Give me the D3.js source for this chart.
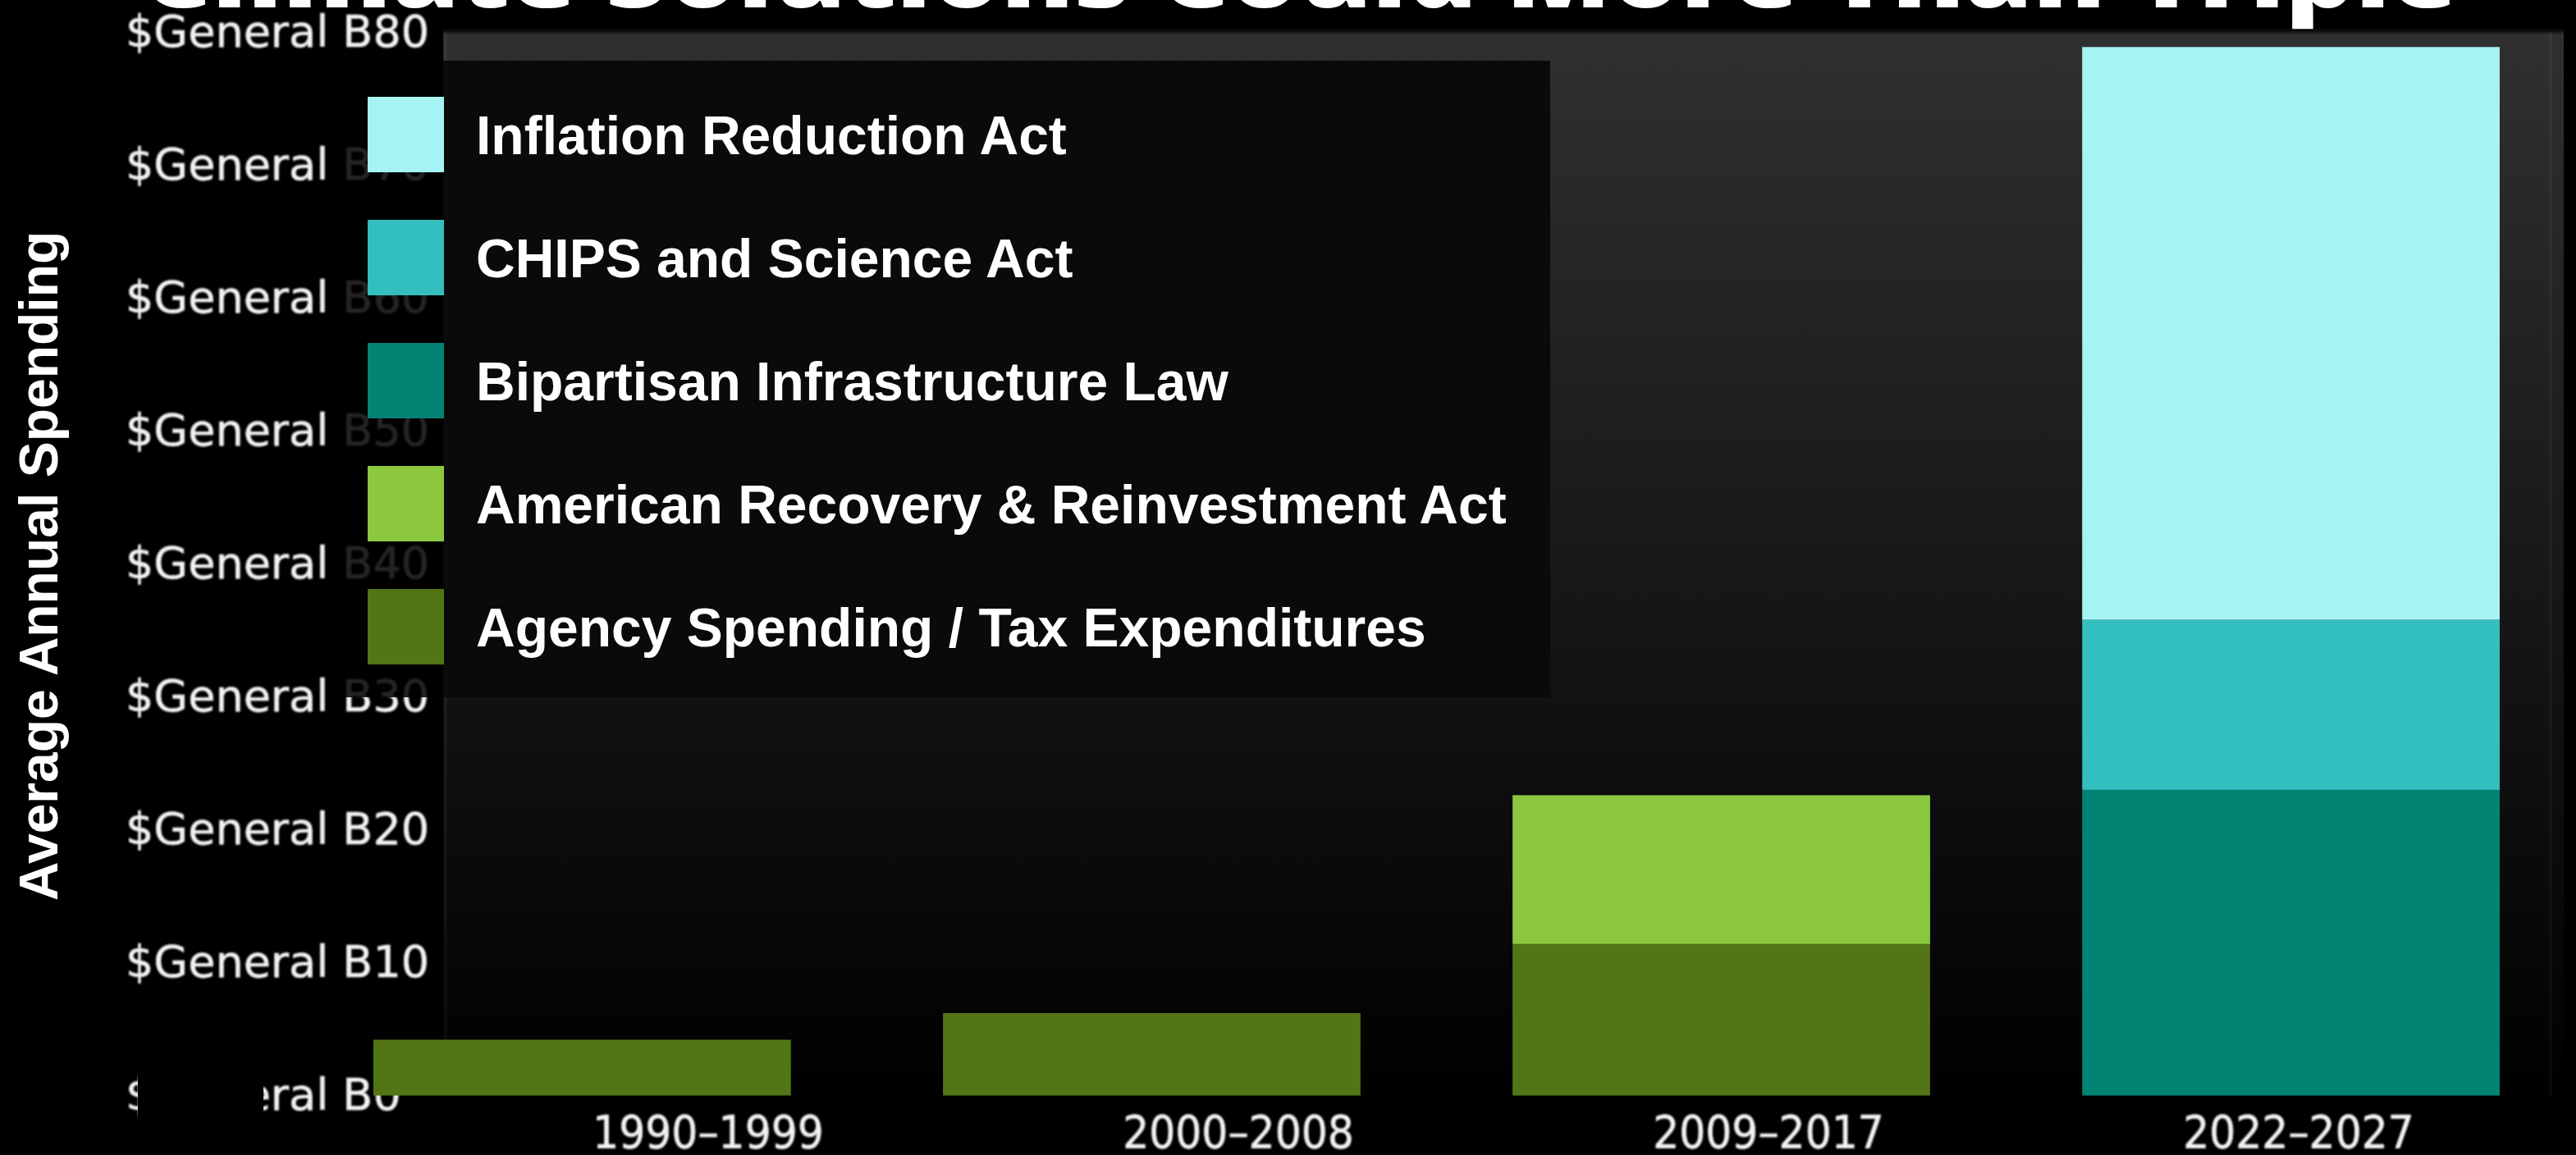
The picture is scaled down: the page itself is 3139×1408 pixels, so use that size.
<!DOCTYPE html>
<html>
<head>
<meta charset="utf-8">
<script src="https://cdn.jsdelivr.net/npm/d3@7"></script>
<style>
  html, body { margin: 0; padding: 0; background: #000; overflow: hidden; }
  svg { display: block; }
</style>
</head>
<body>
<svg id="chart" width="3139" height="1408"></svg>
<script>
// ---- data (billions of dollars, average annual spending) ----
const periods = ["1990–1999", "2000–2008", "2009–2017", "2022–2027"];
const agencySpending        = [4.2, 6.2, 11.4, 0];
const recoveryAct           = [0, 0, 11.2, 0];
const infrastructureLaw     = [0, 0, 0, 23.0];
const chipsAct              = [0, 0, 0, 12.8];
const inflationReductionAct = [0, 0, 0, 43.1];

const seriesKeys  = ["agency", "arra", "bil", "chips", "ira"];
const seriesNames = [
  "Agency Spending / Tax Expenditures",
  "American Recovery & Reinvestment Act",
  "Bipartisan Infrastructure Law",
  "CHIPS and Science Act",
  "Inflation Reduction Act"
];
const seriesColors = ["#527516", "#8bc83f", "#018474", "#33bfbd", "#a6f3f3"];
const yTicks = [0, 10, 20, 30, 40, 50, 60, 70, 80];
const titleText = "Climate Solutions Could More Than Triple";
const yTitle = "Average Annual Spending";

// ---- layout ----
const W = 3139, H = 1408;
const plotLeft = 540, plotRight = 3124;
const labelLeft = 153;

const svg = d3.select("#chart");
const defs = svg.append("defs");

const grad = defs.append("linearGradient")
  .attr("id", "plotBg").attr("x1", 0).attr("y1", 0).attr("x2", 0).attr("y2", 1);
grad.append("stop").attr("offset", "0%").attr("stop-color", "#303030");
grad.append("stop").attr("offset", "100%").attr("stop-color", "#000000");

// soft fade along the top edge of the panel
const topFade = defs.append("linearGradient")
  .attr("id", "topFade").attr("x1", 0).attr("y1", 0).attr("x2", 0).attr("y2", 1);
topFade.append("stop").attr("offset", "0%").attr("stop-color", "#000").attr("stop-opacity", 1);
topFade.append("stop").attr("offset", "100%").attr("stop-color", "#000").attr("stop-opacity", 0);

defs.append("filter").attr("id", "softLine").attr("x", "-1%").attr("y", "-300%").attr("width", "102%").attr("height", "700%")
  .append("feGaussianBlur").attr("stdDeviation", 1.6);
defs.append("filter").attr("id", "softText").attr("x", "-5%").attr("y", "-20%").attr("width", "110%").attr("height", "140%")
  .append("feGaussianBlur").attr("stdDeviation", 0.8);

// scales
const y = d3.scaleLinear().domain([0, 80]).range([1335.5, 39.5]);
const xLabels = d3.scaleBand().domain(periods).range([plotLeft, plotRight]);
const xBars = d3.scaleBand().domain(periods).range([455, 3046]).paddingInner(0.267).paddingOuter(0);

// stacked rows
const rows = periods.map((p, i) => ({
  period: p,
  agency: agencySpending[i],
  arra: recoveryAct[i],
  bil: infrastructureLaw[i],
  chips: chipsAct[i],
  ira: inflationReductionAct[i]
}));
const stacked = d3.stack().keys(seriesKeys)(rows);
const color = d3.scaleOrdinal().domain(seriesKeys).range(seriesColors);

// background
svg.append("rect").attr("width", W).attr("height", H).attr("fill", "#000");

// title (runs off the top edge)
svg.append("text")
  .attr("x", 172).attr("y", 9)
  .attr("textLength", 2823).attr("lengthAdjust", "spacingAndGlyphs")
  .attr("fill", "#fff")
  .style("font-family", "'Open Sans', 'DejaVu Sans', sans-serif")
  .style("font-weight", 800)
  .style("font-size", "114px")
  .text(titleText);

// plot panel
const panelTop = y(80) - 4, panelBottom = y(0) + 1.5;
svg.append("rect")
  .attr("x", plotLeft).attr("y", panelTop)
  .attr("width", plotRight - plotLeft).attr("height", panelBottom - panelTop)
  .attr("fill", "url(#plotBg)");
svg.append("rect")
  .attr("x", plotLeft).attr("y", panelTop)
  .attr("width", plotRight - plotLeft).attr("height", 7)
  .attr("fill", "url(#topFade)");

// gridlines
svg.append("g").selectAll("line")
  .data(yTicks.filter(d => d > 0))
  .join("line")
  .attr("x1", plotLeft).attr("x2", plotRight)
  .attr("y1", d => y(d)).attr("y2", d => y(d))
  .attr("stroke", "#ffffff").attr("stroke-opacity", 0.06).attr("stroke-width", 4)
  .attr("filter", "url(#softLine)");

// panel borders and baseline
svg.append("line")
  .attr("x1", plotLeft + 3).attr("x2", plotLeft + 3).attr("y1", y(80)).attr("y2", y(0))
  .attr("stroke", "#ffffff").attr("stroke-opacity", 0.05).attr("stroke-width", 3);
svg.append("line")
  .attr("x1", plotRight - 16).attr("x2", plotRight - 16).attr("y1", y(80)).attr("y2", y(0))
  .attr("stroke", "#ffffff").attr("stroke-opacity", 0.04).attr("stroke-width", 4);
svg.append("line")
  .attr("x1", plotLeft).attr("x2", plotRight).attr("y1", y(0)).attr("y2", y(0))
  .attr("stroke", "#2c2c2c").attr("stroke-width", 4)
  .attr("filter", "url(#softLine)");

// y axis labels (left-aligned column)
const yAxis = svg.append("g")
  .attr("transform", `translate(${labelLeft},0)`)
  .call(d3.axisLeft(y).tickValues(yTicks).tickSize(0).tickPadding(0)
    .tickFormat(d => `$General B${d}`));
yAxis.select(".domain").remove();
yAxis.selectAll("text")
  .attr("x", 0)
  .attr("text-anchor", "start")
  .attr("fill", "#f2f2f2")
  .attr("stroke", "#f2f2f2").attr("stroke-width", 0.6)
  .attr("filter", "url(#softText)")
  .style("font-family", "'DejaVu Sans', Verdana, sans-serif")
  .style("font-size", "54px");

// dark patch over the bottom label
svg.append("rect")
  .attr("x", 168).attr("y", y(0) - 40).attr("width", 153).attr("height", 80)
  .attr("fill", "#000");

// bars
svg.append("g").selectAll("g")
  .data(stacked)
  .join("g")
  .attr("fill", d => color(d.key))
  .selectAll("rect")
  .data(d => d.filter(s => s[1] - s[0] > 0))
  .join("rect")
  .attr("x", d => xBars(d.data.period))
  .attr("width", xBars.bandwidth())
  .attr("y", d => y(d[1]))
  .attr("height", d => y(d[0]) - y(d[1]));

// x axis labels
const xAxis = svg.append("g")
  .attr("transform", `translate(0,${y(0) + 1.5})`)
  .call(d3.axisBottom(xLabels).tickSize(0).tickPadding(22));
xAxis.select(".domain").remove();
xAxis.selectAll("text")
  .attr("fill", "#f2f2f2")
  .attr("stroke", "#f2f2f2").attr("stroke-width", 0.6)
  .attr("filter", "url(#softText)")
  .style("font-family", "'DejaVu Sans Condensed', 'DejaVu Sans', sans-serif")
  .style("font-stretch", "condensed")
  .style("font-size", "56px");

// legend
const legendOrder = [4, 3, 2, 1, 0];
const legend = svg.append("g");
legend.append("rect")
  .attr("x", 410).attr("y", 74).attr("width", plotLeft - 410).attr("height", 776)
  .attr("fill", "#000").attr("fill-opacity", 0.85);
legend.append("rect")
  .attr("x", plotLeft).attr("y", 74).attr("width", 1889 - plotLeft).attr("height", 776)
  .attr("fill", "#0a0a0a");
const items = legend.selectAll("g.item")
  .data(legendOrder)
  .join("g").attr("class", "item")
  .attr("transform", (d, i) => `translate(448,${118 + i * 150})`);
items.append("rect")
  .attr("width", 93).attr("height", 92)
  .attr("fill", d => seriesColors[d]);
items.append("text")
  .attr("x", 132).attr("y", 46 + 24)
  .attr("fill", "#fff")
  .style("font-family", "'Liberation Sans', Arial, sans-serif")
  .style("font-weight", 700)
  .style("font-size", "66px")
  .text(d => seriesNames[d]);

// y axis title
svg.append("text")
  .attr("transform", "translate(70,690) rotate(-90)")
  .attr("text-anchor", "middle")
  .attr("fill", "#fff")
  .style("font-family", "'Liberation Sans', Arial, sans-serif")
  .style("font-weight", 700)
  .style("font-size", "66px")
  .text(yTitle);
</script>
</body>
</html>
